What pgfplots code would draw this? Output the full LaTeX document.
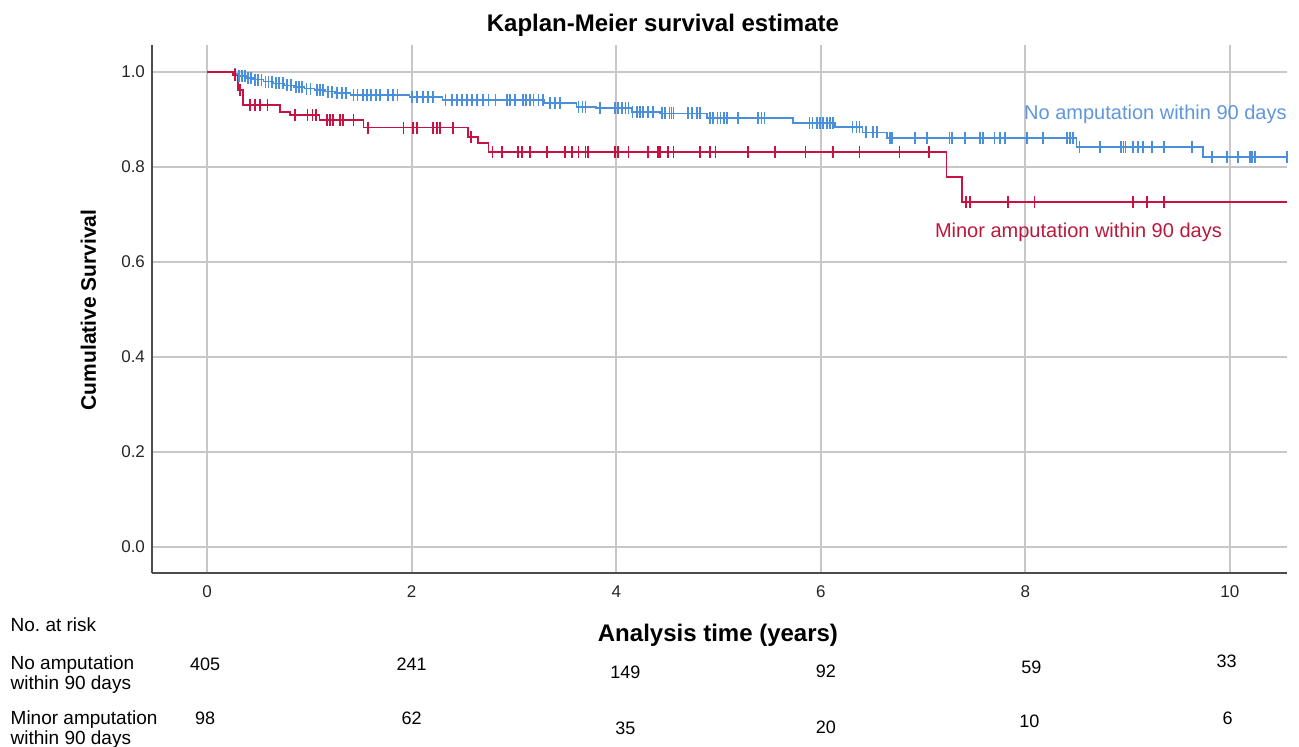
\documentclass[border=0pt]{standalone}
\usepackage{fontspec}
\setmainfont{Liberation Sans}
\usepackage{pgfplots}
\pgfplotsset{compat=1.18}
\definecolor{kmblue}{RGB}{74,143,219}
\definecolor{kmred}{RGB}{200,18,66}
\definecolor{kmbluetxt}{RGB}{95,150,220}
\definecolor{kmredtxt}{RGB}{185,25,60}
\begin{document}
\frenchspacing
\begin{tikzpicture}
\useasboundingbox (0,0) rectangle (649.5pt,373.5pt);
\begin{axis}[
  at={(76pt,87pt)}, anchor=south west,
  width=567.5pt, height=264pt, scale only axis,
  xmin=-0.54, xmax=10.56, ymin=-0.055, ymax=1.057,
  axis x line*=bottom, axis y line*=left,
  axis line style={-, draw=black!70, line width=0.8pt},
  xtick={0,2,4,6,8,10}, ytick={0,0.2,0.4,0.6,0.8,1.0},
  grid=major, major grid style={draw=black!22, line width=0.8pt},
  tick style={draw=none},
  /pgf/number format/assume math mode=true,
  ticklabel style={font=\fontsize{8.5}{10}\selectfont, text=black!85},
  y tick label style={/pgf/number format/.cd, fixed, fixed zerofill, precision=1},
  x tick label style={yshift=-3pt},
  clip=false,
]
% No amputation: step curve
\addplot[const plot, kmblue, line width=0.8pt] table {
0 1.0
0.25 0.996
0.30 0.992
0.38 0.988
0.45 0.984
0.55 0.980
0.65 0.976
0.75 0.972
0.85 0.968
0.95 0.965
1.05 0.962
1.15 0.959
1.25 0.956
1.40 0.952
1.98 0.948
2.30 0.941
3.30 0.935
3.61 0.927
3.80 0.924
4.15 0.916
4.43 0.913
4.89 0.903
5.73 0.893
6.14 0.884
6.41 0.873
6.65 0.861
8.50 0.842
9.74 0.821
10.56 0.821
};
\addplot[only marks, mark=|, mark size=3pt, kmblue, mark options={line width=0.9pt}] table {
0.27 0.996
0.31 0.992
0.34 0.992
0.37 0.992
0.40 0.988
0.43 0.988
0.47 0.984
0.50 0.984
0.53 0.984
0.57 0.980
0.60 0.980
0.63 0.980
0.67 0.976
0.70 0.976
0.74 0.976
0.78 0.972
0.82 0.972
0.87 0.968
0.90 0.968
0.93 0.968
0.97 0.965
1.01 0.965
1.07 0.962
1.10 0.962
1.13 0.962
1.18 0.959
1.22 0.959
1.27 0.956
1.32 0.956
1.36 0.956
1.43 0.952
1.47 0.952
1.52 0.952
1.56 0.952
1.60 0.952
1.65 0.952
1.69 0.952
1.77 0.952
1.82 0.952
1.86 0.952
2.00 0.948
2.05 0.948
2.11 0.948
2.16 0.948
2.21 0.948
2.33 0.941
2.39 0.941
2.44 0.941
2.49 0.941
2.54 0.941
2.59 0.941
2.64 0.941
2.70 0.941
2.75 0.941
2.82 0.941
2.93 0.941
2.96 0.941
3.01 0.941
3.09 0.941
3.12 0.941
3.16 0.941
3.19 0.941
3.24 0.941
3.28 0.941
3.35 0.935
3.40 0.935
3.45 0.935
3.63 0.927
3.67 0.927
3.70 0.927
3.84 0.924
3.99 0.924
4.02 0.924
4.06 0.924
4.09 0.924
4.12 0.924
4.16 0.916
4.20 0.916
4.23 0.916
4.26 0.916
4.31 0.916
4.36 0.916
4.45 0.913
4.48 0.913
4.52 0.913
4.54 0.913
4.56 0.913
4.70 0.913
4.74 0.913
4.79 0.913
4.82 0.913
4.92 0.903
4.95 0.903
4.99 0.903
5.02 0.903
5.05 0.903
5.08 0.903
5.19 0.903
5.39 0.903
5.42 0.903
5.45 0.903
5.89 0.893
5.92 0.893
5.96 0.893
5.99 0.893
6.02 0.893
6.06 0.893
6.09 0.893
6.12 0.893
6.31 0.884
6.35 0.884
6.38 0.884
6.44 0.873
6.51 0.873
6.55 0.873
6.68 0.861
6.70 0.861
6.92 0.861
7.04 0.861
7.26 0.861
7.28 0.861
7.41 0.861
7.56 0.861
7.59 0.861
7.70 0.861
7.75 0.861
7.80 0.861
8.02 0.861
8.17 0.861
8.41 0.861
8.44 0.861
8.47 0.861
8.53 0.842
8.73 0.842
8.94 0.842
8.96 0.842
8.98 0.842
9.05 0.842
9.10 0.842
9.15 0.842
9.24 0.842
9.36 0.842
9.63 0.842
9.83 0.821
9.97 0.821
10.08 0.821
10.20 0.821
10.22 0.821
10.25 0.821
10.56 0.821
};
% Minor amputation: step curve
\addplot[const plot, kmred, line width=0.8pt] table {
0 1.0
0.25 0.993
0.30 0.962
0.35 0.930
0.71 0.916
0.81 0.909
1.10 0.899
1.53 0.883
2.55 0.863
2.65 0.850
2.75 0.832
7.23 0.779
7.38 0.726
10.56 0.726
};
\addplot[only marks, mark=|, mark size=3pt, kmred, mark options={line width=0.9pt}] table {
0.27 0.993
0.32 0.962
0.42 0.930
0.47 0.930
0.52 0.930
0.59 0.930
0.86 0.909
0.98 0.909
1.03 0.909
1.06 0.909
1.17 0.899
1.20 0.899
1.23 0.899
1.30 0.899
1.33 0.899
1.43 0.899
1.57 0.883
1.92 0.883
2.01 0.883
2.05 0.883
2.21 0.883
2.25 0.883
2.28 0.883
2.40 0.883
2.58 0.863
2.79 0.832
2.88 0.832
3.04 0.832
3.08 0.832
3.16 0.832
3.32 0.832
3.50 0.832
3.57 0.832
3.63 0.832
3.70 0.832
3.72 0.832
3.99 0.832
4.02 0.832
4.12 0.832
4.31 0.832
4.41 0.832
4.43 0.832
4.51 0.832
4.56 0.832
4.82 0.832
4.92 0.832
4.97 0.832
5.29 0.832
5.55 0.832
5.85 0.832
6.12 0.832
6.38 0.832
6.77 0.832
7.06 0.832
7.42 0.726
7.46 0.726
7.83 0.726
8.09 0.726
9.05 0.726
9.19 0.726
9.36 0.726
};
% curve labels
\node[anchor=east, inner sep=0pt, text=kmbluetxt, font=\fontsize{10}{12}\selectfont] at (axis cs:10.56,0.912) {No amputation within 90 days};
\node[text=kmredtxt, font=\fontsize{10}{12}\selectfont] at (axis cs:8.52,0.663) {Minor amputation within 90 days};
% title and axis labels
\node[font=\bfseries\fontsize{12}{14}\selectfont] at (axis cs:4.457,1.099) {Kaplan-Meier survival estimate};
\node[rotate=90, font=\bfseries\fontsize{10.5}{12}\selectfont] at (axis cs:-1.163,0.499) {Cumulative Survival};
\node[font=\bfseries\fontsize{12}{14}\selectfont] at (axis cs:4.995,-0.187) {Analysis time (years)};
% number at risk table
\begin{scope}[every node/.style={anchor=west, inner sep=0pt, align=left, font=\fontsize{9.5}{10}\selectfont}]
\node at (axis cs:-1.926,-0.163) {No. at risk};
\node at (axis cs:-1.926,-0.268) {No amputation\\within 90 days};
\node at (axis cs:-1.926,-0.385) {Minor amputation\\within 90 days};
\end{scope}
\begin{scope}[every node/.style={font=\fontsize{9}{10}\selectfont}]
\node at (axis cs:-0.02,-0.248) {405};
\node at (axis cs:2.00,-0.248) {241};
\node at (axis cs:4.09,-0.265) {149};
\node at (axis cs:6.05,-0.263) {92};
\node at (axis cs:8.06,-0.253) {59};
\node at (axis cs:9.97,-0.242) {33};
\node at (axis cs:-0.02,-0.362) {98};
\node at (axis cs:2.00,-0.362) {62};
\node at (axis cs:4.09,-0.383) {35};
\node at (axis cs:6.05,-0.379) {20};
\node at (axis cs:8.04,-0.368) {10};
\node at (axis cs:9.98,-0.360) {6};
\end{scope}
\end{axis}
\end{tikzpicture}
\end{document}
